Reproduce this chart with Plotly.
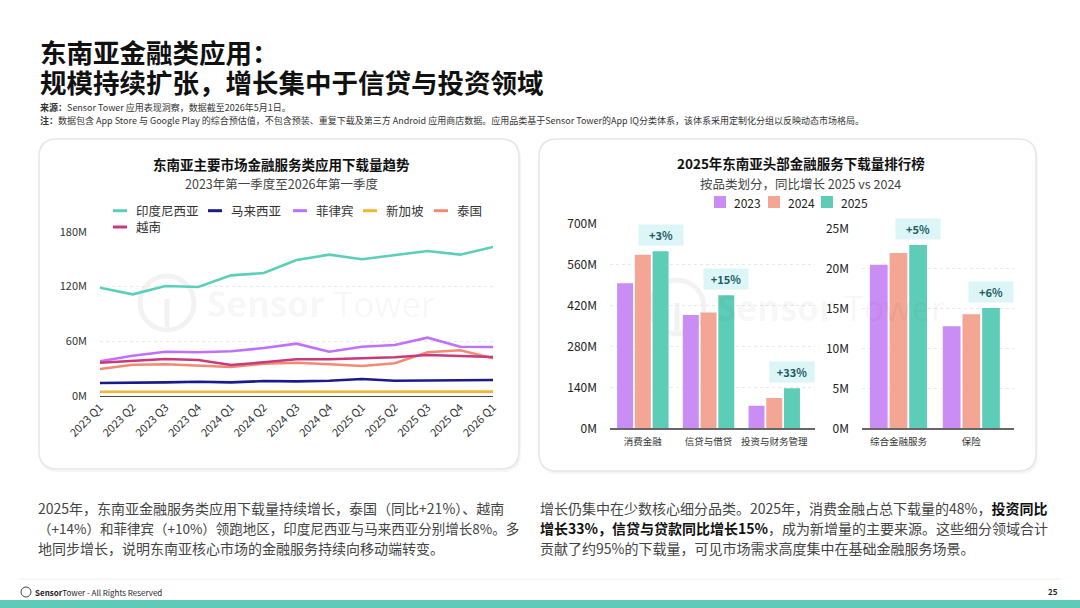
import plotly.graph_objects as go

W, H = 1080, 608
FONT = "Noto Sans CJK SC, Noto Sans, sans-serif"

# ---------------- data ----------------
quarters = ["2023 Q1", "2023 Q2", "2023 Q3", "2023 Q4", "2024 Q1", "2024 Q2", "2024 Q3",
            "2024 Q4", "2025 Q1", "2025 Q2", "2025 Q3", "2025 Q4", "2026 Q1"]
indonesia = [118.8, 111.5, 120.6, 119.5, 132.3, 134.9, 149.2, 155.1, 150.0, 154.3, 159.1, 155.1, 163.5]
malaysia = [13.9, 14.7, 14.7, 15.4, 14.7, 16.1, 15.8, 16.5, 18.3, 16.5, 16.9, 16.9, 17.2]
philippines = [37.8, 44.0, 48.4, 47.7, 48.8, 52.4, 57.2, 48.4, 53.9, 55.7, 63.8, 53.9, 53.5]
singapore = [4.3, 4.3, 4.4, 4.4, 4.4, 4.4, 4.5, 4.5, 4.4, 4.4, 4.5, 4.5, 4.5]
thailand = [29.3, 34.1, 34.5, 33.0, 31.5, 35.2, 36.3, 34.5, 32.6, 35.6, 47.7, 49.9, 41.1]
vietnam = [36.3, 38.5, 40.3, 39.2, 33.7, 36.7, 40.0, 40.0, 41.1, 42.2, 44.7, 44.0, 42.5]
line_names = ["印度尼西亚", "马来西亚", "菲律宾", "新加坡", "泰国", "越南"]
line_colors = ["#5ccfb8", "#1c1a8a", "#c170fb", "#f2b632", "#f28a73", "#c83a7b"]
line_ticks = [0, 60, 120, 180]
line_tick_labels = ["0M", "60M", "120M", "180M"]

cat_big = ["消费金融", "信贷与借贷", "投资与财务管理"]
big_2023 = [497, 388, 77]
big_2024 = [595, 397, 104]
big_2025 = [607, 456, 137]
big_growth = ["+3%", "+15%", "+33%"]
big_ticks = [0, 140, 280, 420, 560, 700]
big_tick_labels = ["0M", "140M", "280M", "420M", "560M", "700M"]

cat_small = ["综合金融服务", "保险"]
small_2023 = [20.5, 12.8]
small_2024 = [22.0, 14.3]
small_2025 = [23.0, 15.1]
small_growth = ["+5%", "+6%"]
small_ticks = [0, 5, 10, 15, 20, 25]
small_tick_labels = ["0M", "5M", "10M", "15M", "20M", "25M"]

years = ["2023", "2024", "2025"]
bar_colors = ["#c98df4", "#f2a693", "#5ecdb8"]


def px(x):
    return x / W


def py(y):
    return 1 - y / H


fig = go.Figure()

# ---------------- line chart ----------------
for name, vals, col in zip(line_names, [indonesia, malaysia, philippines, singapore, thailand, vietnam], line_colors):
    fig.add_trace(go.Scatter(x=quarters, y=vals, name=name, mode="lines",
                             line=dict(color=col, width=2.6), xaxis="x", yaxis="y",
                             showlegend=False, hoverinfo="skip"))

# ---------------- bar charts ----------------
for yr, col, vals in zip(years, bar_colors, [big_2023, big_2024, big_2025]):
    fig.add_trace(go.Bar(x=cat_big, y=vals, name=yr, marker=dict(color=col, line=dict(width=0)),
                         xaxis="x2", yaxis="y2", showlegend=False, hoverinfo="skip"))
for yr, col, vals in zip(years, bar_colors, [small_2023, small_2024, small_2025]):
    fig.add_trace(go.Bar(x=cat_small, y=vals, name=yr, marker=dict(color=col, line=dict(width=0)),
                         xaxis="x3", yaxis="y3", showlegend=False, hoverinfo="skip"))

BARGAP = 0.19
off2025 = (1 - BARGAP) / 3

tick_font = dict(family=FONT, size=11, color="#333")
grid = dict(showgrid=True, gridcolor="#e9e9e9", griddash="dot", gridwidth=1)

fig.update_layout(
    width=W, height=H, margin=dict(l=0, r=0, t=0, b=0, pad=0, autoexpand=False),
    showlegend=False,
    paper_bgcolor="white", plot_bgcolor="rgba(0,0,0,0)",
    font=dict(family=FONT, color="#222"),
    barmode="group", bargap=BARGAP, bargroupgap=0.1,
    xaxis=dict(domain=[px(100), px(493)], range=[0, 12], showgrid=False, showline=True,
               linecolor="#444", linewidth=1.2, tickangle=-45, tickfont=tick_font,
               ticks="", anchor="y", automargin=False),
    yaxis=dict(domain=[py(395.7), py(232)], range=[0, 180], tickvals=line_ticks,
               ticktext=line_tick_labels, tickfont=dict(family=FONT, size=11, color="#333"),
               zeroline=False, showline=False, ticklabelstandoff=12, anchor="x",
               automargin=False, **grid),
    xaxis2=dict(domain=[px(610), px(815)], showgrid=False, showline=True, linecolor="#666",
                linewidth=1.5, tickfont=dict(family=FONT, size=9.5, color="#333"), anchor="y2",
                ticklabelstandoff=4, automargin=False),
    yaxis2=dict(domain=[py(428.3), py(224)], range=[0, 700], tickvals=big_ticks,
                ticktext=big_tick_labels, tickfont=dict(family=FONT, size=12, color="#222"),
                zeroline=False, ticklabelstandoff=12, anchor="x2", automargin=False, **grid),
    xaxis3=dict(domain=[px(862), px(1014)], showgrid=False, showline=True, linecolor="#666",
                linewidth=1.5, tickfont=dict(family=FONT, size=9.5, color="#333"), anchor="y3",
                ticklabelstandoff=4, automargin=False),
    yaxis3=dict(domain=[py(428.3), py(229)], range=[0, 25], tickvals=small_ticks,
                ticktext=small_tick_labels, tickfont=dict(family=FONT, size=12, color="#222"),
                zeroline=False, ticklabelstandoff=12, anchor="x3", automargin=False, **grid),
)

shapes = []
annotations = []


def rrect_path(x0, y0, x1, y1, r):
    pts = [
        ("M", [(x0 + r, y0)]), ("L", [(x1 - r, y0)]), ("Q", [(x1, y0), (x1, y0 + r)]),
        ("L", [(x1, y1 - r)]), ("Q", [(x1, y1), (x1 - r, y1)]), ("L", [(x0 + r, y1)]),
        ("Q", [(x0, y1), (x0, y1 - r)]), ("L", [(x0, y0 + r)]), ("Q", [(x0, y0), (x0 + r, y0)]),
    ]
    s = ""
    for cmd, ps in pts:
        s += cmd + " " + " ".join(f"{px(a):.5f},{py(b):.5f}" for a, b in ps) + " "
    return s + "Z"


# cards
for (x0, y0, x1, y1) in [(39, 139, 519, 469), (539, 139, 1036, 471)]:
    shapes.append(dict(type="path", path=rrect_path(x0 + 1, y0 + 2, x1 + 2, y1 + 3, 18),
                       xref="paper", yref="paper", fillcolor="rgba(0,0,0,0.035)",
                       line=dict(width=0), layer="below"))
    shapes.append(dict(type="path", path=rrect_path(x0, y0, x1, y1, 18), xref="paper", yref="paper",
                       fillcolor="white", line=dict(color="#e6e6e6", width=1.5), layer="below"))

# watermarks
for cx, cy, tx in [(167, 303, 205), (677, 307, 715)]:
    shapes.append(dict(type="circle", xref="paper", yref="paper",
                       x0=px(cx - 27), x1=px(cx + 27), y0=py(cy + 27), y1=py(cy - 27),
                       line=dict(color="rgba(0,0,0,0.05)", width=5), layer="below"))
    shapes.append(dict(type="line", xref="paper", yref="paper",
                       x0=px(cx), x1=px(cx), y0=py(cy - 4), y1=py(cy + 24),
                       line=dict(color="rgba(0,0,0,0.05)", width=5), layer="below"))
    annotations.append(dict(x=px(tx), y=py(cy), xref="paper", yref="paper", xanchor="left",
                            yanchor="middle", showarrow=False,
                            text="<b>Sensor</b> Tower",
                            font=dict(family="Open Sans, sans-serif", size=35, color="rgba(0,0,0,0.045)")))


def text(x, y, s, size, color="#222", xanchor="left", bold=False):
    annotations.append(dict(x=px(x), y=py(y), xref="paper", yref="paper", xanchor=xanchor,
                            yanchor="middle", showarrow=False,
                            text=f"<b>{s}</b>" if bold else s,
                            font=dict(family=FONT, size=size, color=color)))


# page title
text(38, 51.5, "东南亚金融类应用：", 26.5, "#111", bold=True)
text(38, 81, "规模持续扩张，增长集中于信贷与投资领域", 26.5, "#111", bold=True)
text(38, 107, "<b>来源：</b>Sensor Tower 应用表现洞察，数据截至2026年5月1日。", 9, "#333")
text(38, 120, "<b>注：</b>数据包含 App Store 与 Google Play 的综合预估值，不包含预装、重复下载及第三方 Android 应用商店数据。"
     "应用品类基于Sensor Tower的App IQ分类体系，该体系采用定制化分组以反映动态市场格局。", 9, "#333")

# left chart titles
text(281.5, 164, "东南亚主要市场金融服务类应用下载量趋势", 13.5, "#111", xanchor="center", bold=True)
text(281.5, 183, "2023年第一季度至2026年第一季度", 12.5, "#444", xanchor="center")

# left legend
leg_pos = [(113, 210.7), (208, 210.7), (293, 210.7), (363, 210.7), (434, 210.7), (113, 227)]
for (lx, ly), name, col in zip(leg_pos, line_names, line_colors):
    shapes.append(dict(type="line", xref="paper", yref="paper", x0=px(lx), x1=px(lx + 14),
                       y0=py(ly), y1=py(ly), line=dict(color=col, width=3)))
    text(lx + 21, ly, name, 12.5, "#333")

# right chart titles
text(800.5, 163, "2025年东南亚头部金融服务下载量排行榜", 13.5, "#111", xanchor="center", bold=True)
text(800.5, 183, "按品类划分，同比增长 2025 vs 2024", 12.5, "#444", xanchor="center")

# right legend
for sx, yr, col in zip([714, 768, 821], years, bar_colors):
    shapes.append(dict(type="rect", xref="paper", yref="paper", x0=px(sx), x1=px(sx + 12),
                       y0=py(208), y1=py(196), fillcolor=col, line=dict(width=0)))
    text(sx + 18, 202, yr, 12, "#222")

# growth labels
for i, g in enumerate(big_growth):
    annotations.append(dict(x=i + off2025, y=big_2025[i], xref="x2", yref="y2", yanchor="bottom",
                            xanchor="center", yshift=5, showarrow=False, text=f"<b>{g}</b>",
                            bgcolor="#dcf6f8", width=40, height=16, borderpad=2,
                            font=dict(family=FONT, size=11, color="#1d5a63")))
for i, g in enumerate(small_growth):
    annotations.append(dict(x=i + off2025, y=small_2025[i], xref="x3", yref="y3", yanchor="bottom",
                            xanchor="center", yshift=5, showarrow=False, text=f"<b>{g}</b>",
                            bgcolor="#dcf6f8", width=40, height=16, borderpad=2,
                            font=dict(family=FONT, size=11, color="#1d5a63")))

# bottom paragraphs
left_lines = [
    "2025年，东南亚金融服务类应用下载量持续增长，泰国（同比+21%）、越南",
    "（+14%）和菲律宾（+10%）领跑地区，印度尼西亚与马来西亚分别增长8%。多",
    "地同步增长，说明东南亚核心市场的金融服务持续向移动端转变。",
]
left_sizes = [14, 13.5, 14]
B = "<span style='color:#111'><b>"
E = "</b></span>"
right_lines = [
    "增长仍集中在少数核心细分品类。2025年，消费金融占总下载量的48%，" + B + "投资同比" + E,
    B + "增长33%，信贷与贷款同比增长15%" + E + "，成为新增量的主要来源。这些细分领域合计",
    "贡献了约95%的下载量，可见市场需求高度集中在基础金融服务场景。",
]
for k, (s, fs) in enumerate(zip(left_lines, left_sizes)):
    text(36, 508 + 20 * k, s, fs, "#444")
for k, s in enumerate(right_lines):
    text(538, 508 + 20 * k, s, 14, "#444")

# footer
shapes.append(dict(type="line", xref="paper", yref="paper", x0=px(20), x1=px(1060), y0=py(579), y1=py(579),
                   line=dict(color="#eeeeee", width=1)))
shapes.append(dict(type="circle", xref="paper", yref="paper", x0=px(21), x1=px(31), y0=py(597), y1=py(587),
                   line=dict(color="#444", width=1)))
text(33, 592, "<b>Sensor</b>Tower - All Rights Reserved", 8, "#222")
text(1060, 591, "25", 8, "#222", xanchor="right", bold=True)
shapes.append(dict(type="rect", xref="paper", yref="paper", x0=0, x1=1, y0=0, y1=py(600),
                   fillcolor="#5ecbb8", line=dict(width=0)))

fig.update_layout(shapes=shapes, annotations=annotations)
fig.write_html("out.html")
